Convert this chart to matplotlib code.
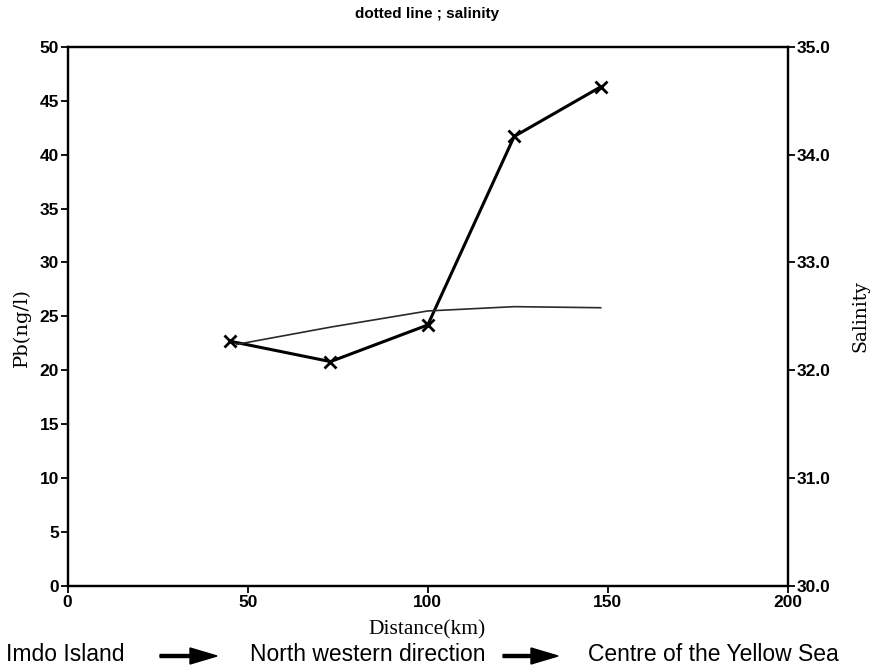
import matplotlib
matplotlib.use("Agg")
import matplotlib.pyplot as plt
from matplotlib.patches import FancyArrow

# Lead concentration along the transect
distance_pb = [45, 73, 100, 124, 148]
pb = [22.7, 20.8, 24.2, 41.7, 46.3]

# Salinity along the same transect
distance_sal = [47, 73, 100, 124, 148]
salinity = [32.24, 32.40, 32.55, 32.59, 32.58]

x_ticks = [0, 50, 100, 150, 200]
pb_ticks = [0, 5, 10, 15, 20, 25, 30, 35, 40, 45, 50]
sal_ticks = [30.0, 31.0, 32.0, 33.0, 34.0, 35.0]

W, H = 871, 669
fig = plt.figure(figsize=(W / 100, H / 100), dpi=100)

left, right, top, bottom = 67.5, 788, 47, 585.7
ax = fig.add_axes([left / W, 1 - bottom / H, (right - left) / W, (bottom - top) / H])
ax2 = ax.twinx()

tick_font = dict(family="Liberation Sans", weight="bold", size=12.5)

ax.plot(distance_pb, pb, color="black", lw=2.2, marker="x", ms=8, mew=2, zorder=3)
ax2.plot(distance_sal, salinity, color="#2a2a2a", lw=1.2, zorder=2)

ax.set_xlim(0, 200)
ax.set_ylim(0, 50)
ax2.set_ylim(30, 35)

ax.set_xticks(x_ticks)
ax.set_yticks(pb_ticks)
ax2.set_yticks(sal_ticks)
ax2.set_yticklabels([f"{v:.1f}" for v in sal_ticks])

for a in (ax, ax2):
    for s in a.spines.values():
        s.set_linewidth(1.6)
    a.tick_params(direction="out", length=5, width=1.3, pad=1)
ax.tick_params(axis="x", pad=2)

for lab in ax.get_xticklabels() + ax.get_yticklabels() + ax2.get_yticklabels():
    lab.set_fontproperties(matplotlib.font_manager.FontProperties(**tick_font))

# Title and axis titles
fig.text(427 / W, 1 - 14 / H, "dotted line ; salinity", ha="center", va="center",
         family="Liberation Sans", weight="bold", size=11)
fig.text(22 / W, 1 - 328 / H, "Pb(ng/l)", rotation=90, ha="center", va="center",
         family="DejaVu Serif", size=14)
fig.text(860 / W, 1 - 316 / H, "Salinity", rotation=90, ha="center", va="center",
         family="DejaVu Serif", size=13.5)
fig.text(427 / W, 1 - 630 / H, "Distance(km)", ha="center", va="center",
         family="Liberation Serif", size=15.5)

# Direction of the transect
base = 1 - 661 / H
fig.text(6 / W, base, "Imdo Island", ha="left", va="baseline",
         family="Liberation Sans", size=16.5)
fig.text(250 / W, base, "North western direction", ha="left", va="baseline",
         family="Liberation Sans", size=16.5)
fig.text(588 / W, base, "Centre of the Yellow Sea", ha="left", va="baseline",
         family="Liberation Sans", size=16.5)

for x0, x1 in [(160, 217), (503, 558)]:
    y = (H - 656) / 100
    arr = FancyArrow(x0 / 100, y, (x1 - x0) / 100, 0, width=0.03,
                     head_width=0.16, head_length=0.27, length_includes_head=True,
                     color="black", transform=fig.dpi_scale_trans)
    fig.patches.append(arr)

fig.savefig("out.png", dpi=100)
